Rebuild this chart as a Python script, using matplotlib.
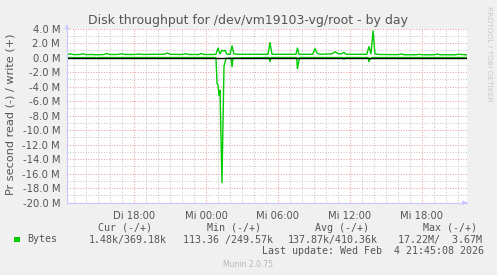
import matplotlib
matplotlib.use('Agg')
import matplotlib.pyplot as plt

# Zeit in Stunden ab Di 00:00 (5-Minuten-Raster), Werte in MB/s
write_t = [12.42, 12.75, 13.0, 13.5, 13.75, 14.0, 14.5, 14.9, 15.5, 15.7, 16.0, 16.5,
           17.0, 17.3, 18.0, 18.4, 18.8, 19.5, 20.5, 20.8, 21.0, 22.0, 22.3, 22.6,
           23.4, 23.6, 23.8, 24.6, 24.83, 25.0, 25.17, 25.33, 25.5, 25.58, 25.75,
           26.0, 26.17, 26.33, 26.6, 29.17, 29.33, 29.5, 31.5, 31.62, 31.75, 32.9,
           33.08, 33.25, 33.5, 34.5, 34.75, 35.0, 35.25, 35.5, 35.67, 37.4, 37.58,
           37.75, 37.92, 38.08, 38.5, 40.0, 40.3, 40.5, 41.5, 41.8, 42.0, 43.0,
           43.3, 43.5, 44.8, 45.0, 45.75]
write_v = [0.42, 0.50, 0.40, 0.42, 0.52, 0.40, 0.42, 0.38, 0.42, 0.55, 0.42, 0.42,
           0.50, 0.42, 0.42, 0.48, 0.42, 0.45, 0.45, 0.62, 0.45, 0.42, 0.52, 0.42,
           0.42, 0.55, 0.42, 0.42, 0.45, 1.30, 0.50, 1.00, 0.90, 1.00, 0.45,
           0.45, 1.60, 0.50, 0.45, 0.45, 2.05, 0.45, 0.45, 1.30, 0.45, 0.45,
           1.25, 0.60, 0.45, 0.50, 0.80, 0.55, 0.50, 0.70, 0.45, 0.45, 1.50,
           0.50, 3.67, 0.50, 0.42, 0.40, 0.50, 0.38, 0.38, 0.45, 0.38, 0.38,
           0.48, 0.38, 0.38, 0.45, 0.37]

read_t = [12.42, 14.83, 14.92, 15.0, 24.83, 24.92, 25.0, 25.08, 25.17, 25.33,
          25.5, 25.67, 26.08, 26.17, 26.25, 29.25, 29.33, 29.42, 31.55, 31.62,
          31.7, 31.8, 35.42, 35.5, 35.58, 37.0, 37.08, 37.17, 37.5, 37.58, 37.67,
          37.75, 37.83, 45.75]
read_v = [0.01, 0.0, 0.12, 0.0, 0.0, 3.6, 3.8, 5.2, 4.5, 17.22,
          1.2, 0.1, 0.05, 1.27, 0.05, 0.0, 0.57, 0.0, 0.0, 1.5,
          0.8, 0.0, 0.0, 0.25, 0.0, 0.0, 0.1, 0.0, 0.0, 0.57, 0.1,
          0.2, 0.0, 0.0]

x_ticks = [18, 24, 30, 36, 42]
x_labels = ['Di 18:00', 'Mi 00:00', 'Mi 06:00', 'Mi 12:00', 'Mi 18:00']
y_ticks = [4, 2, 0, -2, -4, -6, -8, -10, -12, -14, -16, -18, -20]

legend_head = ['Cur (-/+)', 'Min (-/+)', 'Avg (-/+)', 'Max (-/+)']
legend_vals = ['1.48k/369.18k', '113.36 /249.57k', '137.87k/410.36k', '17.22M/  3.67M']

W, H = 497, 275
GREEN = '#00cc00'
TXT = '#555555'
AXC = '#c8c8ff'

fig = plt.figure(figsize=(W / 100, H / 100), dpi=100, facecolor='#f0f0f0')
ax = fig.add_axes([67 / W, (H - 202.7) / H, 400 / W, 174.2 / H])
ax.set_facecolor('white')

ax.set_xlim(12.4167, 45.75)
ax.set_ylim(-20, 4)

# Gitter: grau jede Stunde / 1M, rot alle 6h / 2M
ax.set_xticks(x_ticks)
ax.set_xticklabels(x_labels)
ax.set_xticks(range(13, 46), minor=True)
ax.set_yticks(y_ticks)
ax.set_yticklabels([f'{v:.1f} M' for v in y_ticks])
ax.set_yticks(range(-19, 4, 2), minor=True)
ax.grid(which='minor', color='#c8c8c8', linestyle=(0, (1, 1.5)), lw=0.75)
ax.grid(which='major', color='#f0a0a0', linestyle=(0, (1, 1.5)), lw=0.75)
ax.set_axisbelow(True)
ax.tick_params(which='both', length=0, colors=TXT, labelsize=7.2, pad=5)
ax.tick_params(axis='x', pad=6)

for s in ['top', 'right']:
    ax.spines[s].set_visible(False)
for s in ['left', 'bottom']:
    ax.spines[s].set_color(AXC)
    ax.spines[s].set_linewidth(0.8)

ax.annotate('', xy=(403 / 400, 0), xytext=(0.99, 0), xycoords='axes fraction',
            arrowprops=dict(arrowstyle='-|>', color=AXC, lw=0.8, mutation_scale=6),
            annotation_clip=False)
ax.annotate('', xy=(0, 1 + 7 / 174.2), xytext=(0, 0.99), xycoords='axes fraction',
            arrowprops=dict(arrowstyle='-|>', color=AXC, lw=0.8, mutation_scale=6),
            annotation_clip=False)

ax.plot(write_t, write_v, color=GREEN, lw=1.0)
ax.plot(read_t, [-v for v in read_v], color=GREEN, lw=1.0)
ax.axhline(0, color='black', lw=1.0)

def px(x, y):
    return x / W, 1 - y / H

fig.text(*px(248.5, 24), 'Disk throughput for /dev/vm19103-vg/root - by day',
         ha='center', va='baseline', fontsize=9, color=TXT)
fig.text(*px(10.5, 114), 'Pr second read (-) / write (+)', rotation=90,
         ha='center', va='center', fontsize=8.1, color=TXT)
fig.text(*px(488.5, 53.5), 'RRDTOOL / TOBI OETIKER', rotation=-90,
         ha='center', va='center', fontsize=5.4, color='#c8c8c8')

mono = dict(family='DejaVu Sans Mono', fontsize=7.2, color=TXT, va='center')
for x, s in zip([98, 207, 315, 423], legend_head):
    fig.text(*px(x, 228), s, ha='left', **mono)
for x, s in zip([89, 183, 288, 398], legend_vals):
    fig.text(*px(x, 239.5), s, ha='left', **mono)
fig.text(*px(27, 239.5), 'Bytes', ha='left', **mono)
fig.text(*px(262, 251.5), 'Last update: Wed Feb  4 21:45:08 2026', ha='left', **mono)
fig.add_artist(plt.Rectangle(px(14, 242), 6 / W, 5 / H, transform=fig.transFigure,
                             facecolor=GREEN, edgecolor='none'))
fig.text(*px(248, 264.5), 'Munin 2.0.75', ha='center', va='center',
         fontsize=5.5, color='#b8b8b8')

fig.savefig('out.png', dpi=100, facecolor=fig.get_facecolor())
